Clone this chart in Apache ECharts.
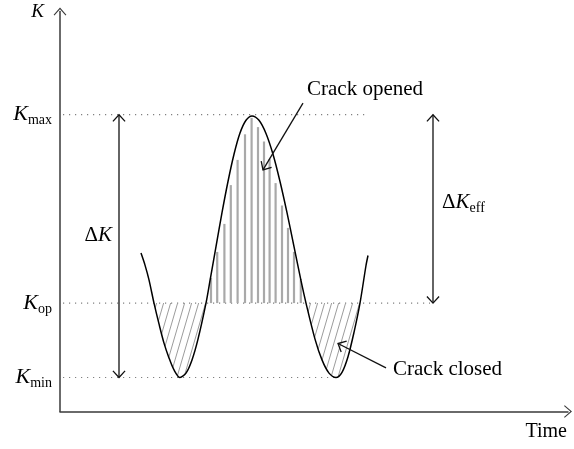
<!DOCTYPE html>
<html>
<head>
<meta charset="utf-8">
<script src="https://cdn.jsdelivr.net/npm/echarts@6/dist/echarts.min.js"></script>
<style>
  html, body { margin: 0; padding: 0; background: #fff; }
  #chart { width: 574px; height: 449px; }
</style>
</head>
<body>
<div id="chart"></div>
<script>
    // levels of the stress intensity factor
    const Kmin = 0.85;
    const Kop = 2.71;
    const Kmax = 7.42;

    // the loading curve K(t)
    const curveT = [2.025, 2.125, 2.225, 2.35, 2.475, 2.6, 2.725, 2.85, 3.0,
                    3.15, 3.3, 3.45, 3.65, 3.75, 3.9, 4.05, 4.2, 4.35, 4.5, 4.65, 4.8,
                    4.975, 5.15, 5.325, 5.5, 5.675, 5.85, 6.025, 6.15, 6.375, 6.55, 6.725, 6.9,
                    7.05, 7.2, 7.35, 7.5, 7.65, 7.7];
    const curveK = [3.96, 3.66, 3.29, 2.71, 2.19, 1.71, 1.34, 1.04, 0.85,
                    0.96, 1.29, 1.81, 2.71, 3.27, 4.12, 4.97, 5.75, 6.43, 6.96, 7.28, 7.39,
                    7.28, 6.95, 6.43, 5.75, 4.97, 4.12, 3.27, 2.71, 1.81, 1.29, 0.96, 0.85,
                    0.98, 1.37, 1.98, 2.71, 3.65, 3.9];

    // grey bars, crack opened
    const openT = [3.775, 3.93, 4.11, 4.27, 4.44, 4.625, 4.79, 4.95, 5.1, 5.24, 5.39, 5.55, 5.7, 5.85, 6.02];
    const openK = [3.34, 3.99, 4.69, 5.66, 6.29, 6.93, 7.34, 7.11, 6.75, 6.31, 5.71, 5.15, 4.59, 3.99, 3.31];

    // dotted guide lines: [t start, t end, K]
    const guides = [[0.075, 7.7, Kmax], [0.075, 9.25, Kop], [0.075, 6.85, Kmin]];

    // arrows: [t0, K0, t1, K1, heads]
    const arrows = [
        [1.475, Kmin, 1.475, Kmax, 2],
        [9.325, Kop, 9.325, Kmax, 2],
        [6.075, 7.71, 5.075, 6.04, 1],
        [8.15, 1.09, 6.95, 1.7, 1]
    ];

    // text notes
    const notes = [
        { t: 1.475, K: 4.4, text: '{n|Δ}{k|K}', pos: 'left', dist: 7 },
        { t: 9.325, K: 5.22, text: '{n|Δ}{k|K}{s|eff}', pos: 'right', dist: 9 },
        { t: 6.175, K: 8.05, text: '{n|Crack opened}', pos: 'right', dist: 0 },
        { t: 8.325, K: 1.04, text: '{n|Crack closed}', pos: 'right', dist: 0 }
    ];

    const serif = 'Liberation Serif';
    const ink = '#000';
    const rich = {
        n: { fontFamily: serif, fontSize: 21, color: ink, lineHeight: 26 },
        k: { fontFamily: serif, fontSize: 21, fontStyle: 'italic', color: ink, lineHeight: 26 },
        s: { fontFamily: serif, fontSize: 14, color: ink, lineHeight: 14, padding: [12, 0, 0, 0] }
    };

    // hatch for the closed part
    function hatch() {
        const c = document.createElement('canvas');
        c.width = 7; c.height = 24;
        const ctx = c.getContext('2d');
        ctx.strokeStyle = '#9c9c9c';
        ctx.lineWidth = 1;
        ctx.beginPath();
        for (let i = -1; i <= 1; i++) {
            ctx.moveTo(7 * (i + 1), 0);
            ctx.lineTo(7 * i, 24);
        }
        ctx.stroke();
        return c;
    }

    const curve = curveT.map((t, i) => [t, curveK[i]]);
    // troughs = curve points under Kop, split in two
    const troughs = [];
    let cur = [];
    curve.forEach(p => {
        if (p[1] <= Kop + 1e-9) { cur.push(p); }
        else if (cur.length) { troughs.push(cur); cur = []; }
    });
    if (cur.length) troughs.push(cur);

    const levelName = v => {
        if (Math.abs(v - Kmax) < 1e-6) return '{k|K}{s|max}';
        if (Math.abs(v - Kop) < 1e-6) return '{k|K}{s|op}';
        if (Math.abs(v - Kmin) < 1e-6) return '{k|K}{s|min}';
        return '';
    };

    function arrowItem(params, api) {
        const p0 = api.coord([api.value(0), api.value(1)]);
        const p1 = api.coord([api.value(2), api.value(3)]);
        const st = { stroke: '#111', lineWidth: 1.3, fill: null };
        const head = (tip, from) => {
            const a = Math.atan2(tip[1] - from[1], tip[0] - from[0]);
            const L = 9, w = 0.74;
            return {
                type: 'polyline',
                shape: { points: [
                    [tip[0] - L * Math.cos(a - w), tip[1] - L * Math.sin(a - w)],
                    tip,
                    [tip[0] - L * Math.cos(a + w), tip[1] - L * Math.sin(a + w)]
                ] },
                style: st
            };
        };
        const children = [
            { type: 'line', shape: { x1: p0[0], y1: p0[1], x2: p1[0], y2: p1[1] }, style: st },
            head(p1, p0)
        ];
        if (api.value(4) === 2) children.push(head(p0, p1));
        return { type: 'group', children: children };
    }

    function barItem(params, api) {
        const top = api.coord([api.value(0), api.value(1)]);
        const base = api.coord([api.value(0), Kop]);
        return {
            type: 'rect',
            shape: { x: top[0] - 1.1, y: top[1], width: 2.2, height: base[1] - top[1] },
            style: { fill: '#a9a9a9' }
        };
    }

    const series = [];
    guides.forEach(g => {
        series.push({
            type: 'line',
            data: [[g[0], g[2]], [g[1], g[2]]],
            showSymbol: false,
            silent: true,
            lineStyle: { color: '#808080', width: 1.2, type: [1.2, 4.8] },
            z: 1
        });
    });
    troughs.forEach(tr => {
        series.push({
            type: 'line',
            data: tr,
            smooth: 0.3,
            showSymbol: false,
            lineStyle: { width: 0 },
            areaStyle: { origin: Kop, color: { image: hatch(), repeat: 'repeat' }, opacity: 1 },
            z: 2
        });
    });
    series.push({
        type: 'custom',
        renderItem: barItem,
        data: openT.map((t, i) => [t, openK[i]]),
        z: 2
    });
    series.push({
        type: 'line',
        data: curve,
        smooth: 0.3,
        showSymbol: false,
        lineStyle: { color: '#000', width: 1.5 },
        z: 3
    });
    series.push({
        type: 'custom',
        renderItem: arrowItem,
        data: arrows,
        clip: false,
        z: 4
    });
    series.push({
        type: 'scatter',
        symbolSize: 0,
        itemStyle: { opacity: 1 },
        data: notes.map(n => ({
            value: [n.t, n.K],
            label: { show: true, position: n.pos, distance: n.dist, color: ink, formatter: n.text, rich: rich }
        })),
        z: 5
    });

    const chevron = 'path://M0,8 L7,0 L14,8 L13.1,8.79 L7,1.82 L0.9,8.79 Z';

    const option = {
        animation: false,
        backgroundColor: '#fff',
        grid: { left: 60, right: 6, top: 11.5, bottom: 37.5 },
        xAxis: {
            type: 'value',
            min: 0,
            max: 12.7,
            name: 'Time',
            nameLocation: 'end',
            nameGap: -1,
            nameTextStyle: { fontFamily: serif, fontSize: 20, color: ink, align: 'right', verticalAlign: 'top', padding: [10, 0, 0, 0] },
            axisLine: { show: true, symbol: ['none', chevron], symbolSize: [14, 8], lineStyle: { color: '#3a3a3a', width: 1.5 } },
            axisTick: { show: false },
            axisLabel: { show: false },
            splitLine: { show: false }
        },
        yAxis: {
            type: 'value',
            min: 0,
            max: 10,
            name: 'K',
            nameLocation: 'end',
            nameGap: 0,
            nameTextStyle: { fontFamily: serif, fontSize: 19, fontStyle: 'italic', color: ink, align: 'right', verticalAlign: 'middle', padding: [0, 16, 0, 0] },
            axisLine: { show: true, symbol: ['none', chevron], symbolSize: [14, 8], lineStyle: { color: '#3a3a3a', width: 1.5 } },
            axisTick: { show: false },
            axisLabel: {
                show: true,
                customValues: [Kmin, Kop, Kmax],
                margin: 8,
                formatter: levelName,
                rich: {
                    k: { fontFamily: serif, fontSize: 22, fontStyle: 'italic', color: ink, lineHeight: 26 },
                    s: { fontFamily: serif, fontSize: 14, color: ink, lineHeight: 14, padding: [12, 0, 0, 0] }
                }
            },
            splitLine: { show: false }
        },
        series: series
    };

    const chart = echarts.init(document.getElementById('chart'));
    chart.setOption(option);
    window.addEventListener('resize', function () {
        chart.resize();
    });
</script>
</body>
</html>
